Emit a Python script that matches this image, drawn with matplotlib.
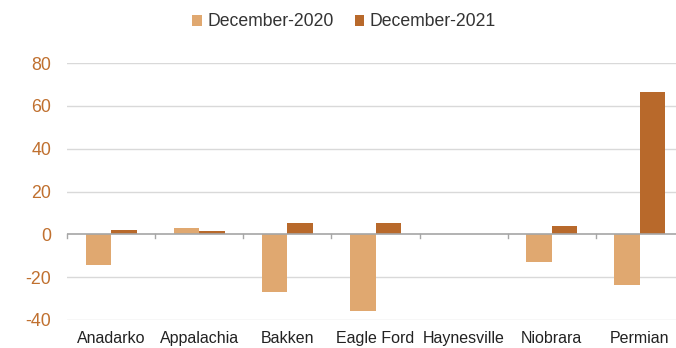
import matplotlib
matplotlib.use("Agg")
import matplotlib.pyplot as plt
import numpy as np

plt.rcParams['font.family'] = ['Liberation Sans', 'DejaVu Sans']

basins = ["Anadarko", "Appalachia", "Bakken", "Eagle Ford", "Haynesville", "Niobrara", "Permian"]
dec_2020 = [-14.5, 3.1, -27.1, -35.7, 0.3, -13.1, -23.5]
dec_2021 = [2.0, 1.5, 5.3, 5.3, 0.3, 3.9, 66.6]
yticks = [-40, -20, 0, 20, 40, 60, 80]

light = "#E0A870"
dark = "#B8692B"
tick_color = "#C0702F"

W, H = 676, 348
fig = plt.figure(figsize=(W / 100, H / 100), dpi=100)
ax = fig.add_axes([67 / W, 28 / H, 617 / W, 257 / H])

x = np.arange(len(basins))
bw = 0.29
ax.bar(x - bw / 2, dec_2020, width=bw, color=light, label="December-2020", zorder=3)
ax.bar(x + bw / 2, dec_2021, width=bw, color=dark, label="December-2021", zorder=3)

ax.set_xlim(-0.5, len(basins) - 0.5)
ax.set_ylim(-40, 80)
ax.set_yticks(yticks)
ax.set_yticklabels([str(v) for v in yticks])
for v in yticks:
    if v != 0:
        ax.axhline(v, color="#D9D9D9", lw=1, zorder=1)
ax.axhline(0, color="#A6A6A6", lw=1.2, zorder=4)

# small separators below the zero line between categories
for b in np.arange(-0.5, len(basins) - 0.4, 1.0):
    ax.plot([b, b], [0, -1.6], color="#A6A6A6", lw=1, zorder=4, clip_on=False)

ax.set_xticks(x)
ax.set_xticklabels(basins)
ax.tick_params(axis="x", length=0, pad=8, labelsize=11.5, labelcolor="#222222")
ax.tick_params(axis="y", length=0, pad=11.5, labelsize=12.8, labelcolor=tick_color)
for s in ax.spines.values():
    s.set_visible(False)

fig.legend(loc="center", bbox_to_anchor=(344 / W, 1 - 22 / H), ncol=2, frameon=False,
           fontsize=12.7, handlelength=0.55, handleheight=0.55, handletextpad=0.3,
           columnspacing=1.2, labelcolor="#333333")

fig.savefig("out.png", dpi=100)
